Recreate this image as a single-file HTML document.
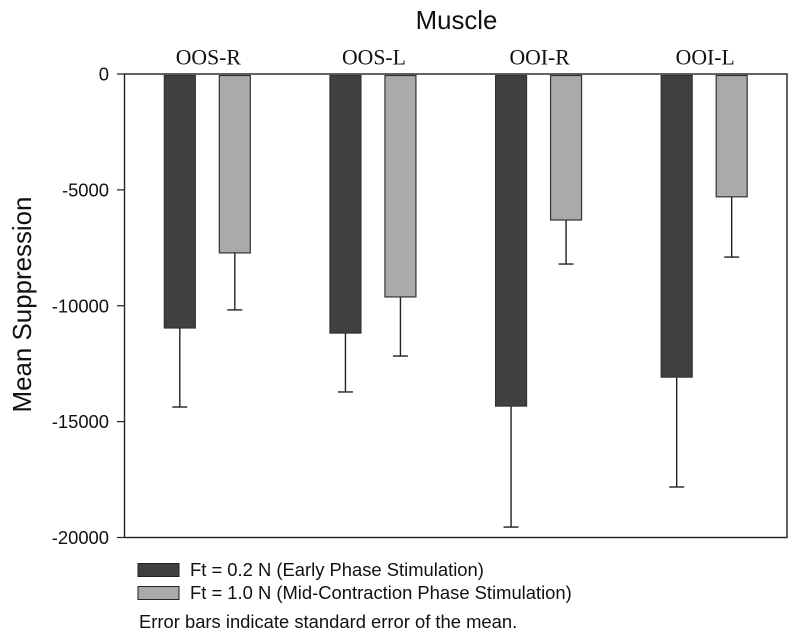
<!DOCTYPE html>
<html lang="en">
<head>
<meta charset="utf-8">
<title>Mean Suppression by Muscle</title>
<style>
html,body{margin:0;padding:0;background:#fff;}
svg{display:block;}
text{font-family:"Liberation Sans",sans-serif;fill:#111;}
.cat{font-family:"Liberation Serif",serif;font-size:21.7px;text-anchor:middle;}
.tick{font-size:18.4px;text-anchor:end;}
.leg{font-size:18.4px;}
</style>
</head>
<body>
<svg id="chart" width="800" height="639" viewBox="0 0 800 639" xmlns="http://www.w3.org/2000/svg">
<rect width="800" height="639" fill="#fff"/>
<text x="456.5" y="29" font-size="25.8" text-anchor="middle">Muscle</text>
<text transform="translate(31,304.5) rotate(-90)" font-size="25.9" text-anchor="middle">Mean Suppression</text>
<g id="marks"></g>
<rect x="124.5" y="74" width="662.5" height="463.5" fill="none" stroke="#222" stroke-width="1.4"/>
<g id="axis"></g>
<g>
<rect x="138" y="563.5" width="41" height="13" fill="#404040" stroke="#222" stroke-width="1"/>
<text class="leg" x="190" y="576">Ft = 0.2 N (Early Phase Stimulation)</text>
<rect x="138" y="586.5" width="41" height="13" fill="#aaaaaa" stroke="#222" stroke-width="1"/>
<text class="leg" x="190" y="599">Ft = 1.0 N (Mid-Contraction Phase Stimulation)</text>
</g>
<text class="leg" x="139" y="628">Error bars indicate standard error of the mean.</text>
</svg>
<script>
const categories = ['OOS-R', 'OOS-L', 'OOI-R', 'OOI-L'];
const earlyMeans = [-10960, -11180, -14330, -13080];
const earlyErrorEnds = [-14370, -13720, -19550, -17820];
const midMeans = [-7720, -9620, -6300, -5300];
const midErrorEnds = [-10180, -12170, -8200, -7900];
const yTicks = [0, -5000, -10000, -15000, -20000];

const NS = 'http://www.w3.org/2000/svg';
const plotLeft = 124.5, plotRight = 787, plotTop = 74, plotBottom = 537.5;
const yMin = -20000, yMax = 0;
const barWidth = 31, barOffset = 27.5, capHalf = 7.5;

function yScale(v) {
  return plotTop + (yMax - v) / (yMax - yMin) * (plotBottom - plotTop);
}
function xCenter(i) {
  return plotLeft + (i + 0.5) * (plotRight - plotLeft) / categories.length;
}
function make(tag, attrs, parent) {
  const el = document.createElementNS(NS, tag);
  for (const k in attrs) el.setAttribute(k, attrs[k]);
  parent.appendChild(el);
  return el;
}

const marks = document.getElementById('marks');
const axis = document.getElementById('axis');

function drawSeries(means, ends, offset, fill, key) {
  means.forEach(function (v, i) {
    const cx = xCenter(i) + offset;
    const yBar = yScale(v);
    const yEnd = yScale(ends[i]);
    const stem = make('line', {x1: cx, x2: cx, y1: yBar, y2: yEnd, stroke: '#222', 'stroke-width': 1.4}, marks);
    
    
    const cap = make('line', {x1: cx - capHalf, x2: cx + capHalf, y1: yEnd, y2: yEnd, stroke: '#222', 'stroke-width': 1.4}, marks);
    
    
    const bar = make('rect', {x: cx - barWidth / 2, y: yScale(0) + 1.5, width: barWidth, height: yBar - yScale(0) - 1.5, fill: fill, stroke: '#333', 'stroke-width': 1.2}, marks);
    
    
  });
}
drawSeries(earlyMeans, earlyErrorEnds, -barOffset, '#404040', 'early-phase');
drawSeries(midMeans, midErrorEnds, barOffset, '#aaaaaa', 'mid-contraction-phase');

categories.forEach(function (c, i) {
  const t = make('text', {x: xCenter(i) + 1, y: 64.5, class: 'cat'}, axis);
  t.textContent = c;
  
  
});
yTicks.forEach(function (v) {
  const y = yScale(v);
  const tick = make('line', {x1: plotLeft - 7.5, x2: plotLeft, y1: y, y2: y, stroke: '#222', 'stroke-width': 1.2}, axis);
  
  
  const label = make('text', {x: 109, y: y + 6.5, class: 'tick'}, axis);
  label.textContent = String(v);
  
  
});
</script>
</body>
</html>
